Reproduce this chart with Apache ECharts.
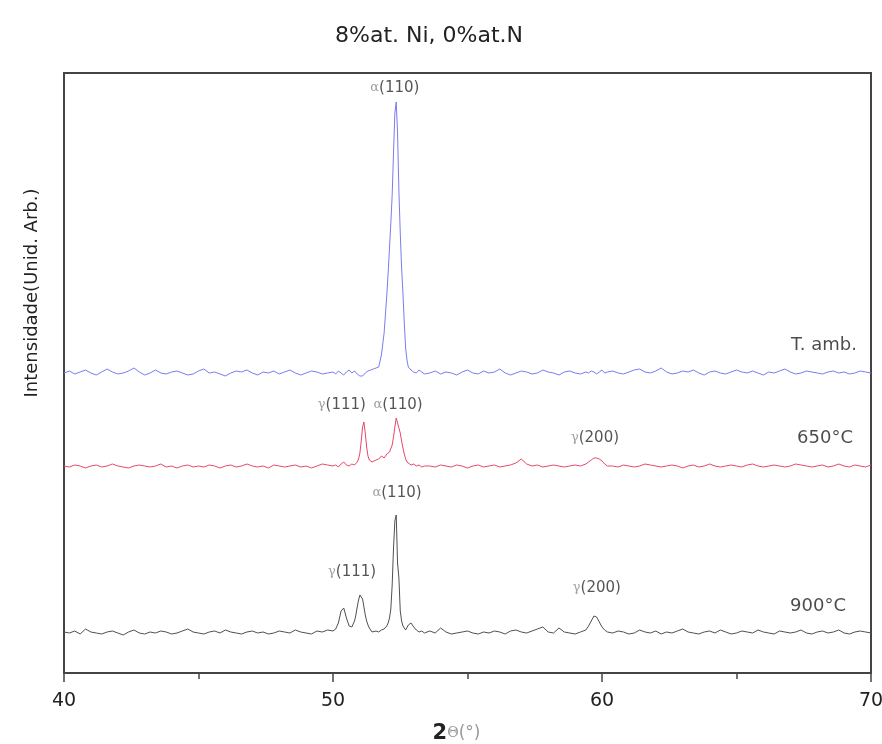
<!DOCTYPE html>
<html>
<head>
<meta charset="utf-8">
<title>8%at. Ni, 0%at.N</title>
<script src="https://cdn.jsdelivr.net/npm/echarts@6/dist/echarts.min.js"></script>
<style>
  html, body { margin: 0; padding: 0; background: #ffffff; }
  #chart { width: 882px; height: 744px; }
</style>
</head>
<body>
<div id="chart"></div>
<script>
// 2θ sampling positions (degrees), finer around the diffraction peaks
const twoTheta = [
  40,40.2,40.4,40.6,40.8,41,41.2,41.4,41.6,41.8,
  42,42.2,42.4,42.6,42.8,43,43.2,43.4,43.6,43.8,
  44,44.2,44.4,44.6,44.8,45,45.2,45.4,45.6,45.8,
  46,46.2,46.4,46.6,46.8,47,47.2,47.4,47.6,47.8,
  48,48.2,48.4,48.6,48.8,49,49.2,49.4,49.6,49.8,
  50,50.1,50.2,50.3,50.4,50.5,50.6,50.7,50.8,
  50.85,50.9,50.95,51,51.05,51.1,51.15,51.2,51.25,51.3,51.35,51.4,51.45,
  51.5,51.6,51.7,51.8,51.9,52,
  52.05,52.1,52.15,52.2,52.25,52.3,52.35,52.4,52.45,52.5,52.55,52.6,52.65,52.7,52.75,
  52.8,52.9,53,53.1,53.2,53.3,53.4,
  53.6,53.8,54,54.2,54.4,54.6,54.8,55,55.2,55.4,
  55.6,55.8,56,56.2,56.4,56.6,56.8,57,57.2,57.4,
  57.6,57.8,58,58.2,58.4,58.6,58.8,59,59.2,59.4,
  59.5,59.6,59.7,59.8,59.9,60,60.1,60.2,
  60.4,60.6,60.8,61,61.2,61.4,61.6,61.8,62,62.2,
  62.4,62.6,62.8,63,63.2,63.4,63.6,63.8,64,64.2,
  64.4,64.6,64.8,65,65.2,65.4,65.6,65.8,66,66.2,
  66.4,66.6,66.8,67,67.2,67.4,67.6,67.8,68,68.2,
  68.4,68.6,68.8,69,69.2,69.4,69.6,69.8,70
];

// Stacked diffractograms (arbitrary units, vertically offset)
const intensityAmb = [
  300,302,299,301,303,300,298,301,304,301,
  299,300,302,305,301,298,300,303,300,299,
  301,302,300,298,299,302,304,300,301,299,
  297,300,302,301,303,300,298,301,300,302,
  299,301,303,300,298,300,302,301,299,300,
  301,299,302,300,298,301,303,300,302,
  300,299,298,297,296,297,299,300,301,302,302,303,303,
  304,305,306,318,340,378,
  400,425,450,478,520,560,571,540,482,440,405,380,350,325,313,
  306,303,301,300,303,301,299,
  300,302,299,301,300,298,301,303,300,299,
  302,300,301,304,300,298,300,302,301,299,
  300,303,301,300,298,301,302,300,299,301,
  300,302,301,299,301,303,300,301,
  302,300,299,301,303,304,301,300,302,305,
  301,299,300,302,301,303,300,298,301,302,
  300,299,301,303,301,300,302,300,298,301,
  300,302,304,301,299,300,302,301,300,299,
  301,302,300,301,299,300,302,301,300
];

const intensity650 = [
  207,206,208,207,205,207,208,206,207,209,
  207,206,205,207,208,207,206,207,209,206,
  207,205,207,208,206,207,206,208,207,205,
  207,208,206,207,209,207,206,207,205,208,
  207,206,207,208,206,207,205,207,209,208,
  207,208,206,209,211,208,207,209,208,
  210,211,214,220,232,246,251,240,226,217,213,212,211,
  212,213,214,217,215,219,
  220,221,223,228,236,246,255,254,245,240,232,225,219,214,211,
  210,208,209,207,208,206,207,
  207,206,208,207,206,208,207,205,207,208,
  206,207,208,206,207,208,210,214,209,207,
  208,206,207,208,207,206,207,208,207,209,
  211,213,215,215,214,212,209,207,
  207,206,208,207,206,207,209,208,207,206,
  207,208,207,205,207,208,206,207,209,207,
  206,207,208,207,206,208,209,207,206,207,
  208,207,206,207,209,208,207,206,207,208,
  206,207,209,207,206,208,207,206,208
];

const intensity900 = [
  41,40,42,39,44,41,40,39,41,42,
  40,38,41,43,40,39,41,40,42,41,
  39,40,42,44,41,40,39,41,42,40,
  43,41,40,39,41,42,40,41,39,40,
  42,41,40,43,41,40,39,42,41,43,
  42,44,50,62,65,55,47,46,52,
  58,66,73,78,80,74,66,58,52,48,45,43,41,
  40,42,41,43,44,47,
  50,55,64,88,125,152,158,110,95,62,52,47,45,43,44,
  48,50,46,43,41,42,40,
  42,40,45,41,39,40,41,42,40,39,
  41,40,42,41,39,42,43,41,40,42,
  44,46,41,40,45,41,40,39,41,43,
  47,52,57,56,51,46,43,41,
  40,42,41,39,40,43,41,40,42,39,
  41,40,42,44,41,40,39,41,42,40,
  43,41,39,40,42,41,40,43,41,40,
  39,42,41,40,41,43,40,39,41,42,
  40,41,43,40,39,41,42,41,40
];

const seriesNames = ['T. amb.', '650°C', '900°C'];
const seriesColors = ['#7c7cf0', '#e8486a', '#505050'];

// Reflection labels: text and where they sit (2θ, intensity)
const reflectionText = ['α(110)', 'γ(111)', 'α(110)', 'γ(200)', 'α(110)', 'γ(111)', 'γ(200)'];
const reflectionAnchor = [
  [52.30, 585], [50.33, 268], [52.42, 268], [59.74, 235],
  [52.38, 180], [50.71, 101], [59.81, 85]
];
// Curve names, right-aligned above each baseline
const curveNameAnchor = [[69.48, 328], [69.33, 235], [69.07, 67]];

const FONT = '"DejaVu Sans", "Liberation Sans", sans-serif';

const chart = echarts.init(document.getElementById('chart'), null, { renderer: 'canvas' });

const toPairs = arr => twoTheta.map((t, i) => [t, arr[i]]);
const curves = [intensityAmb, intensity650, intensity900].map((arr, k) => ({
  name: seriesNames[k],
  type: 'line',
  data: toPairs(arr),
  showSymbol: false,
  symbol: 'none',
  silent: true,
  lineStyle: { color: seriesColors[k], width: 1 },
  z: 3 - k
}));

const reflectionSeries = {
  type: 'scatter',
  silent: true,
  symbolSize: 0,
  data: reflectionAnchor.map((p, i) => ({ value: p, name: reflectionText[i] })),
  label: {
    show: true,
    position: 'inside',
    align: 'center',
    verticalAlign: 'middle',
    formatter: p => '{g|' + p.name.charAt(0) + '}{t|' + p.name.slice(1) + '}',
    rich: {
      g: { fontFamily: '"DejaVu Serif", serif', fontSize: 13, color: '#888888' },
      t: { fontFamily: FONT, fontSize: 15, color: '#2a2a2a' }
    }
  },
  z: 5
};

const curveNameSeries = {
  type: 'scatter',
  silent: true,
  symbolSize: 0,
  data: curveNameAnchor.map((p, i) => ({ value: p, name: seriesNames[i] })),
  label: {
    show: true,
    position: 'inside',
    align: 'right',
    verticalAlign: 'middle',
    formatter: '{b}',
    fontFamily: FONT,
    fontSize: 18,
    color: '#1e1e1e'
  },
  z: 5
};

chart.setOption({
  backgroundColor: '#ffffff',
  animation: false,
  title: {
    text: '8%at. Ni, 0%at.N',
    left: 424,
    top: 20,
    textAlign: 'center',
    textStyle: { fontFamily: FONT, fontSize: 22, fontWeight: 'normal', color: '#222222' }
  },
  grid: {
    left: 64, right: 11, top: 73, bottom: 71,
    outerBoundsMode: 'none',
    containLabel: false,
    show: true,
    borderColor: '#444444',
    borderWidth: 2,
    backgroundColor: 'transparent'
  },
  xAxis: {
    type: 'value',
    min: 40, max: 70, interval: 10,
    name: '{b|2}{g|Θ}{p|(°)}',
    nameLocation: 'middle',
    nameGap: 50,
    nameTextStyle: {
      padding: [0, 22, 0, 0],
      rich: {
        b: { fontFamily: FONT, fontSize: 21, fontWeight: 'bold', color: '#222222' },
        g: { fontFamily: '"DejaVu Serif", serif', fontSize: 14, color: '#999999' },
        p: { fontFamily: FONT, fontSize: 17, color: '#999999' }
      }
    },
    axisLine: { show: true, lineStyle: { color: '#444444', width: 2 } },
    axisTick: { show: true, inside: false, length: 9, lineStyle: { color: '#444444', width: 1.5 } },
    minorTick: { show: true, splitNumber: 2, length: 6, lineStyle: { color: '#444444', width: 1.5 } },
    axisLabel: { margin: 19, fontFamily: FONT, fontSize: 19, color: '#222222' },
    splitLine: { show: false },
    minorSplitLine: { show: false }
  },
  yAxis: {
    type: 'value',
    min: 0, max: 600,
    axisLine: { show: false },
    axisTick: { show: false },
    axisLabel: { show: false },
    splitLine: { show: false }
  },
  graphic: [{
    type: 'text',
    x: 32, y: 293,
    rotation: Math.PI / 2,
    style: {
      text: 'Intensidade(Unid. Arb.)',
      font: '18px ' + FONT,
      fill: '#222222',
      textAlign: 'center',
      textVerticalAlign: 'middle'
    }
  }],
  series: curves.concat([reflectionSeries, curveNameSeries])
});
</script>
</body>
</html>
